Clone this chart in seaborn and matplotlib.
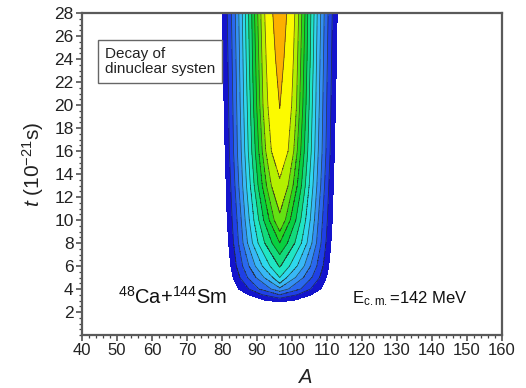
import numpy as np
import matplotlib
matplotlib.use("Agg")
import matplotlib.pyplot as plt
import seaborn as sns
from matplotlib.ticker import MultipleLocator

# ---------------- data ----------------
A_CENTER = 96.5                      # centre of the mass distribution
T_ROWS = [3, 3.5, 4, 5, 6, 8, 10, 13, 16, 20, 24, 28]   # time samples (10^-21 s)
LEVEL_TIPS = [2.9, 3.2, 3.5, 3.8, 4.1, 4.5, 5.0, 5.9, 7.0, 8.0, 9.0, 10.6, 13.6, 19.7]
nan = np.nan
# half-width (in A) of every contour level at the T_ROWS times
HW_1 = [4.0, 9.0, 11.7, 13.3, 14.0, 14.6, 15.0, 15.3, 15.6, 15.9, 16.2, 16.4]
HW_2 = [nan, 5.0, 8.8, 11.4, 12.4, 13.2, 13.6, 14.0, 14.4, 14.6, 14.8, 15.0]
HW_3 = [nan, nan, 6.0, 9.2, 10.6, 11.8, 12.2, 12.8, 13.2, 13.4, 13.6, 13.8]
HW_4 = [nan, nan, 2.5, 6.8, 8.8, 10.5, 11.0, 11.7, 12.1, 12.3, 12.5, 12.7]
HW_5 = [nan, nan, nan, 4.5, 7.0, 9.2, 9.9, 10.6, 11.0, 11.3, 11.5, 11.7]
HW_6 = [nan, nan, nan, 2.0, 5.0, 7.8, 8.7, 9.5, 10.0, 10.3, 10.5, 10.7]
HW_7 = [nan, nan, nan, nan, 2.8, 6.2, 7.4, 8.4, 9.0, 9.3, 9.6, 9.8]
HW_8 = [nan, nan, nan, nan, 0.3, 4.3, 6.0, 7.3, 8.0, 8.4, 8.7, 8.9]
HW_9 = [nan, nan, nan, nan, nan, 2.2, 4.6, 6.2, 7.0, 7.5, 7.8, 8.0]
HW_10 = [nan, nan, nan, nan, nan, nan, 3.0, 5.0, 6.0, 6.6, 6.9, 7.2]
HW_11 = [nan, nan, nan, nan, nan, nan, 1.6, 3.8, 5.0, 5.7, 6.0, 6.3]
HW_12 = [nan, nan, nan, nan, nan, nan, nan, 2.4, 4.0, 4.8, 5.1, 5.4]
HW_13 = [nan, nan, nan, nan, nan, nan, nan, nan, 2.4, 3.4, 3.9, 4.3]
HW_14 = [nan, nan, nan, nan, nan, nan, nan, nan, nan, 0.1, 1.2, 2.0]
HALF_WIDTHS = [HW_1, HW_2, HW_3, HW_4, HW_5, HW_6, HW_7, HW_8, HW_9,
               HW_10, HW_11, HW_12, HW_13, HW_14]
BAND_COLORS = ["#1414cc", "#1f40e6", "#2a68ee", "#3490f4", "#38b8f6", "#2ed8ee",
               "#20e6c4", "#12da7c", "#08d040", "#28d81e", "#64e212", "#b4f000",
               "#fcfa00", "#fcb000"]
X_TICKS = list(range(40, 161, 10))
Y_TICKS = list(range(2, 29, 2))

# ---------------- build the field ----------------
A = np.linspace(40, 160, 2401)
T = np.linspace(0, 28, 1121)
dist = np.abs(A - A_CENTER)
n = len(LEVEL_TIPS)
rows = np.array(T_ROWS)
Z = np.zeros((len(T), len(A)))
for i, t in enumerate(T):
    zc = np.interp(t, [0] + LEVEL_TIPS + [28], [0] + list(range(1, n + 1)) + [n + 0.6])
    xs, fs = [0.0], [zc]
    for k in range(n, 0, -1):
        tip = LEVEL_TIPS[k - 1]
        if t <= tip:
            continue
        w = np.array(HALF_WIDTHS[k - 1])
        m = ~np.isnan(w)
        wt = np.interp(t, np.r_[tip, rows[m]], np.r_[0.0, w[m]])
        wt = max(wt, xs[-1] + 1e-4)
        xs.append(wt)
        fs.append(k)
    xs.append(xs[-1] + 1.5 if len(xs) > 1 else 2.0)
    fs.append(0)
    Z[i] = np.interp(dist, xs, fs)

# ---------------- plot ----------------
sns.set_theme(style="ticks")
plt.rcParams["font.family"] = ["Liberation Sans", "DejaVu Sans"]
plt.rcParams["mathtext.fontset"] = "custom"
plt.rcParams["mathtext.rm"] = "Liberation Sans"
plt.rcParams["mathtext.it"] = "Liberation Sans:italic"

fig = plt.figure(figsize=(5.26, 3.88), dpi=100)
ax = fig.add_axes([82 / 526, 1 - 335 / 388, 420 / 526, 322 / 388])

lev = np.arange(1, n + 2)
ax.contourf(A, T, Z, levels=lev, colors=BAND_COLORS)
ax.contour(A, T, Z, levels=np.arange(2, n + 1), colors="#202020",
           linewidths=0.55, alpha=0.75)

ax.set_xlim(40, 160)
ax.set_ylim(0, 28)
ax.set_xticks(X_TICKS)
ax.set_yticks(Y_TICKS)
ax.xaxis.set_minor_locator(MultipleLocator(2))
ax.yaxis.set_minor_locator(MultipleLocator(0.5))
ax.tick_params(which="major", direction="out", length=4, width=1.1,
               color="#444444", labelcolor="#222222", pad=2)
ax.tick_params(axis="x", which="major", labelsize=12)
ax.tick_params(axis="y", which="major", labelsize=12.5)
ax.tick_params(which="minor", direction="out", length=2.3, width=0.9,
               color="#444444")
ax.tick_params(top=False, right=False, which="both")
for s in ax.spines.values():
    s.set_color("#5a5a5a")
    s.set_linewidth(1.6)

ax.set_xlabel(r"$A$", fontsize=14.5, labelpad=7, x=0.531, color="#222222")
ax.set_ylabel(r"$t$ (10$^{-21}$s)", fontsize=15, labelpad=6, y=0.53,
              color="#222222")

ax.text(0.0545, 0.894, "Decay of\ndinuclear systen",
        transform=ax.transAxes, fontsize=11, va="top", ha="left",
        linespacing=1.05, color="#222222",
        bbox=dict(boxstyle="square,pad=0.45", fc="white", ec="#666666", lw=1.0))
ax.text(50.3, 2.7, r"$^{48}$Ca+$^{144}$Sm", fontsize=14.5, color="#111111",
        ha="left", va="baseline")
ax.text(117.1, 2.8, r"E$_{\mathrm{c.m.}}$=142 MeV", fontsize=12, color="#111111",
        ha="left", va="baseline")

fig.savefig("out.png", dpi=100)
